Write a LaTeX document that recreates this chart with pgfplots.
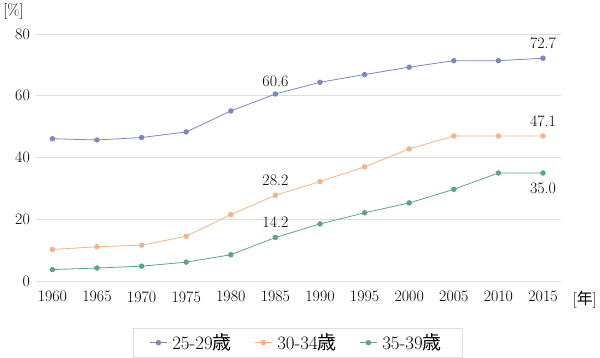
\documentclass[border=0pt]{standalone}
\usepackage{fontspec}
\usepackage{pgfplots}
\pgfplotsset{compat=1.18}
\newfontfamily\jp{Noto Sans CJK JP}
\definecolor{cA}{HTML}{7D86BE}
\definecolor{cB}{HTML}{F5B283}
\definecolor{cC}{HTML}{5BA582}
\definecolor{gridc}{HTML}{DDDDDD}
\begin{document}
\begin{tikzpicture}[font=\fontsize{16}{19}\selectfont]
\begin{axis}[
  scale only axis,
  width=527pt, height=248pt,
  xmin=1958.2, xmax=2017,
  ymin=0, ymax=80,
  xtick={1960,1965,...,2015},
  ytick={0,20,40,60,80},
  /pgf/number format/assume math mode=true,
  /pgf/number format/1000 sep={},
  axis line style={draw=none},
  major tick length=0pt,
  ymajorgrids,
  grid style={gridc, line width=0.9pt},
  tick label style={font=\fontsize{16}{19}\selectfont},
  xticklabel style={yshift=-7pt},
  yticklabel style={xshift=-3pt},
  legend columns=3,
  legend style={at={(0.499,-0.25)}, anchor=center, draw=gridc, line width=0.8pt,
    nodes={font=\fontsize{19}{22}\selectfont, inner xsep=5pt, inner ysep=5pt},
    inner xsep=16pt, inner ysep=1pt},
  legend cell align=left,
]
\addplot[cA, line width=0.8pt, mark=*, mark size=2.3pt] coordinates {
(1960,46.1) (1965,45.7) (1970,46.5) (1975,48.3) (1980,55.1) (1985,60.6)
(1990,64.4) (1995,66.9) (2000,69.3) (2005,71.4) (2010,71.4) (2015,72.2)};
\addlegendentry{25-29{\jp 歳}\rule{18pt}{0pt}}
\addplot[cB, line width=0.8pt, mark=*, mark size=2.3pt] coordinates {
(1960,10.2) (1965,11.1) (1970,11.6) (1975,14.5) (1980,21.5) (1985,27.8)
(1990,32.2) (1995,37.0) (2000,42.8) (2005,47.0) (2010,47.0) (2015,47.0)};
\addlegendentry{30-34{\jp 歳}\rule{18pt}{0pt}}
\addplot[cC, line width=0.8pt, mark=*, mark size=2.3pt] coordinates {
(1960,3.7) (1965,4.2) (1970,4.8) (1975,6.1) (1980,8.5) (1985,14.1)
(1990,18.5) (1995,22.1) (2000,25.3) (2005,29.7) (2010,35.0) (2015,35.0)};
\addlegendentry{35-39{\jp 歳}}
\node[above=6pt] at (axis cs:1985,60.0) {60.6};
\node[above=6pt] at (axis cs:2015,72.2) {72.7};
\node[above=6pt] at (axis cs:2015,47.0) {47.1};
\node[above=6pt] at (axis cs:1985,27.8) {28.2};
\node[above=6pt] at (axis cs:1985,14.1) {14.2};
\node[below=6pt] at (axis cs:2015,35.0) {35.0};
\end{axis}
\node at (-23pt,271pt) {[\%]};
\node at (551pt,-19pt) {[{\jp 年}]};
\end{tikzpicture}
\end{document}
